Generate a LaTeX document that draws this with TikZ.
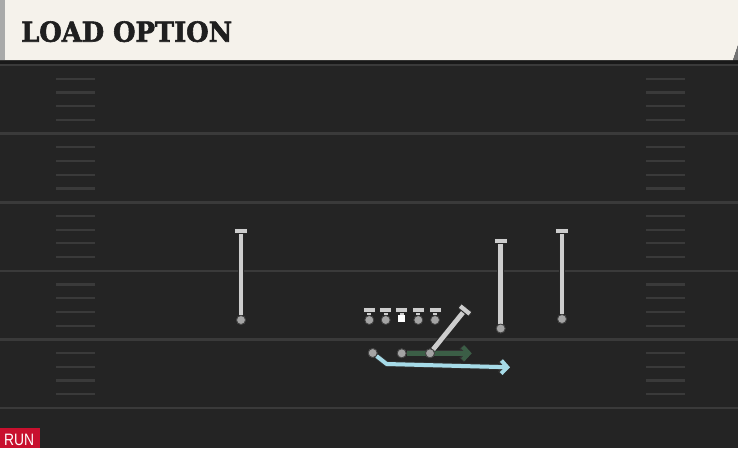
\documentclass[tikz,border=0pt]{standalone}
\usepackage{fontspec}
\newfontfamily\titlefont[BoldFeatures={FakeBold=2.2}]{DejaVu Serif}
\newfontfamily\tagfont{Liberation Sans}
\usetikzlibrary{arrows.meta,calc}

\definecolor{field}{HTML}{242424}
\definecolor{fieldline}{HTML}{3A3A3A}
\definecolor{cream}{HTML}{F5F2EB}
\definecolor{stripe}{HTML}{A9AAA9}
\definecolor{routegray}{HTML}{CDCDCD}
\definecolor{dotgray}{HTML}{A4A4A4}
\definecolor{motiongreen}{HTML}{3B5E46}
\definecolor{runcyan}{HTML}{A6DBE8}
\definecolor{runred}{HTML}{C8102E}

\begin{document}
\begin{tikzpicture}[x=1pt, y=-1pt,
    player/.style={circle, fill=dotgray, draw=black!75, line width=0.8pt, inner sep=0pt, minimum size=9pt},
    snapper/.style={rectangle, fill=white, inner sep=0pt, minimum size=7.5pt},
    tcap/.style={rectangle, fill=routegray, draw=black!85, line width=0.9pt, inner sep=0pt, minimum width=13.5pt, minimum height=5.5pt},
    route/.style={draw=routegray, line width=4.8pt, preaction={draw=black!85, line width=6.6pt}},
    stem/.style={draw=routegray, line width=3.8pt, preaction={draw=black!85, line width=5.4pt}},
    motion/.style={draw=motiongreen, line width=4.4pt, preaction={draw=black!80, line width=6pt},
        -{Straight Barb[length=6pt, width=13pt]}},
    runpath/.style={draw=runcyan, line width=4pt, line join=round, preaction={draw=black!80, line width=5.6pt},
        -{Straight Barb[length=6pt, width=13pt]}}]

    \useasboundingbox (0,0) rectangle (738,448);

    % Field
    \fill[field] (0,0) rectangle (738,448);
    \foreach \k in {0,...,25} {
        \pgfmathsetmacro{\yy}{65+13.72*\k}
        \pgfmathtruncatemacro{\rem}{mod(\k,5)}
        \ifnum\rem=0
            \draw[fieldline, line width=2.6pt] (0,\yy) -- (738,\yy);
        \else
            \draw[fieldline, line width=2.2pt] (56,\yy) -- (95,\yy);
            \draw[fieldline, line width=2.2pt] (646,\yy) -- (685,\yy);
        \fi
    }

    % Header
    \fill[black!90] (0,59) rectangle (738,64);
    \fill[cream] (0,0) -- (738,0) -- (738,45) -- (733,60) -- (0,60) -- cycle;
    \fill[black!55] (738,45) -- (738,60) -- (733,60) -- cycle;
    \fill[stripe] (0,0) rectangle (5,60);
    \node[anchor=base west, inner sep=0pt, text=black!88] (title) at (21,41.7)
        {\resizebox{211pt}{20.5pt}{\titlefont\bfseries LOAD OPTION}};

    % Receivers
    \node[player] (wrl) at (241,320) {};
    \coordinate (wrlend) at (241,231);
    \node[player] (slot) at (500.7,328.5) {};
    \coordinate (slotend) at (500.7,241);
    \node[player] (wrr) at (562,319) {};
    \coordinate (wrrend) at (562,231);
    \foreach \p in {wrl,slot,wrr} {
        \draw[route] (\p) -- (\p end);
        \node[tcap] at (\p end) {};
        \node[player] at (\p) {};
    }

    % Line
    \node[player] (lt) at (369.3,320) {};
    \node[player] (lg) at (385.7,320) {};
    \node[snapper] (c) at (401.7,318.5) {};
    \node[player] (rg) at (418.3,320) {};
    \node[player] (rt) at (435,320) {};
    \foreach \p in {lt,lg,c,rg,rt} {
        \coordinate (\p top) at (\p |- 0,310);
        \draw[stem] (\p.north) -- (\p top);
        \node[tcap, minimum width=12pt, minimum height=5pt] at (\p top) {};
    }

    % Backfield
    \node[player] (m) at (401.7,353.3) {};
    \coordinate (mend) at (471.7,353.3);
    \draw[motion] (m) -- (mend);

    \node[player] (rb) at (430,353.3) {};
    \coordinate (rbend) at (465,310);
    \draw[route] (rb) -- (rbend);
    \node[tcap, rotate=-39] at (rbend) {};
    \node[player] at (rb) {};

    \node[player] (qb) at (372.7,353) {};
    \coordinate (qbturn) at (386.7,364);
    \coordinate (qbend) at (510,367.3);
    \draw[runpath] (qb) -- (qbturn) -- (qbend);
    \node[player] at (qb) {};
    \node[player] at (m) {};

    % Tag
    \fill[runred] (0,428) rectangle (40,448);
    \node[anchor=base west, inner sep=0pt, text=white, font=\tagfont\fontsize{16.5}{16.5}\selectfont] (tag) at (4,445)
        {\scalebox{0.84}[1]{RUN}};

\end{tikzpicture}
\end{document}
